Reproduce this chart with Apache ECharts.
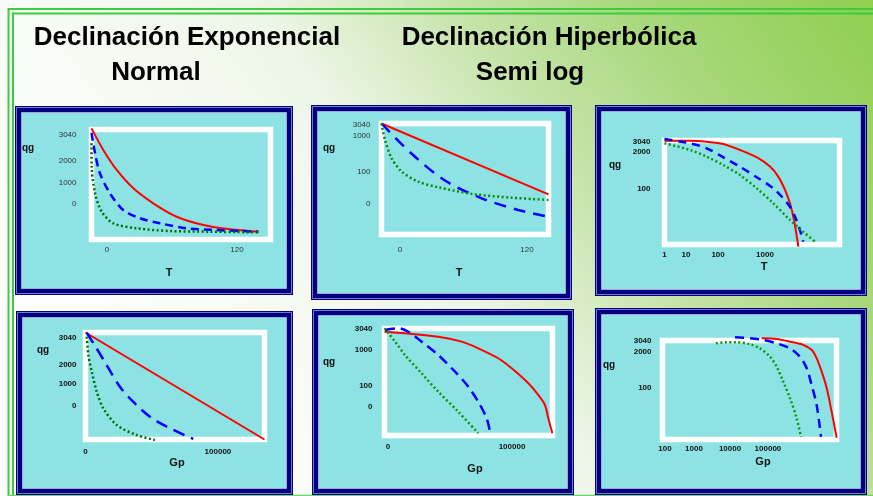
<!DOCTYPE html>
<html>
<head>
<meta charset="utf-8">
<script src="https://cdn.jsdelivr.net/npm/echarts@6/dist/echarts.min.js"></script>
<style>
  html, body { margin: 0; padding: 0; background: #fff; }
  #chart { width: 873px; height: 496px; }
</style>
</head>
<body>
<div id="chart"></div>
<script>
// Curves are given in plot units: x runs 0..100 across each frame, y runs 0..100 from bottom to top.

// Row 1: gas rate qg against time T
const qtLinRed   = [[0,101],[6.6,81.4],[14.1,63.2],[23.4,46.5],[34.5,32.9],[47.6,20.7],[62.5,13.2],[77.4,9.3],[93.2,7.1]];
const qtLinBlue  = [[0,97],[2,78.4],[4.7,60.2],[10.3,42],[17.7,26.8],[27.1,19.3],[38.3,14.7],[53.2,10.2],[69.9,8.6],[93.2,7.1]];
const qtLinGreen = [[0,87.5],[0.1,66.2],[2,42],[5.7,25.3],[12.2,14.7],[25.3,10.2],[43.9,7.7],[66.2,7.1],[93.2,6.5]];

const qtSemiRed   = [[0,100],[100,36.2]];
const qtSemiBlue  = [[0,100],[18.1,72.7],[38,48.6],[60,32.6],[81.9,22.1],[100,16]];
const qtSemiGreen = [[0,100],[2.1,85.1],[6.1,68.6],[12.1,56.6],[22,47.6],[34,42.5],[56,36.2],[78,33.2],[100,31.1]];

const qtLogRed   = [[0,99.8],[14.6,99.8],[24.1,98.8],[33.6,96.6],[43.1,90.9],[52.6,83.9],[60.3,74.9],[65,65.3],[68.9,52.4],[71.7,39.6],[74,23.6],[76.5,-2.1]];
const qtLogBlue  = [[0,101.4],[14.6,97.3],[24.1,92.5],[33.6,83.8],[43.1,74.8],[52.7,64.6],[62.2,54],[67.9,44.4],[71.7,36.3],[74.6,26.7],[77.4,13.9],[79.3,2.7]];
const qtLogGreen = [[0,97.3],[14.6,90.9],[24.1,84.4],[33.6,76.4],[43.1,66.8],[52.7,54],[62.2,39.6],[71.7,23.6],[79.3,12.3],[86,2.7]];

// Row 2: gas rate qg against cumulative production Gp
const qgpLinRed   = [[0,100],[100,0]];
const qgpLinBlue  = [[0.7,99.8],[6.2,85.2],[11.8,69.6],[19.2,49.3],[26.6,35.3],[36,21.3],[45.4,12],[60.2,0.5]];
const qgpLinGreen = [[0.7,96.1],[1.6,79],[3.5,63.4],[6.3,44.7],[9.9,29.2],[17.4,13.6],[28.6,4.2],[38.8,-0.5]];

const qgpSemiRed   = [[0,97],[12.2,95.5],[32,92.3],[45.9,87.7],[55.8,81.5],[67.7,72.2],[75.7,62.8],[85.6,48.8],[91.5,37.9],[95.5,28.5],[97.5,16.1],[99.9,2.1]];
const qgpSemiBlue  = [[0.3,98.6],[8.2,100.2],[14.2,97],[22.1,87.7],[32,75.2],[42,59.6],[49.9,45.6],[55.8,31.6],[60.8,16.1],[62.8,3.6]];
const qgpSemiGreen = [[0,100.2],[6.3,87.7],[12.2,75.2],[22.1,58.1],[32,40.9],[43.9,22.2],[55.8,2.1]];

const qgpLogRed   = [[57,102.2],[65.6,101.5],[73.3,98.8],[81,95.5],[85.8,90.4],[88.6,82],[91.5,68.5],[94.4,51.7],[97.2,28.1],[100.1,1.8]];
const qgpLogBlue  = [[41.7,103.2],[50.3,102.2],[57.9,100.5],[65.6,97.2],[73.3,92.1],[79,83.6],[82.9,71.9],[85.7,55.1],[88.6,34.8],[91.1,2.8]];
const qgpLogGreen = [[30.7,97.2],[36.9,98.2],[42.6,98.2],[50.3,96.2],[56,92.1],[61.8,83.6],[65.6,73.5],[69.4,58.4],[73.3,41.6],[77.1,21.4],[79.6,2.8]];

// Tick label texts and where they sit along each axis (plot units)
const qtLinYText  = ['3040','2000','1000','0'];  const qtLinYAt  = [95,71.4,51.4,32.3];
const qtLinXText  = ['0','120'];                 const qtLinXAt  = [8.7,81.3];
const qtSemiYText = ['3040','1000','100','0'];   const qtSemiYAt = [98.6,88.7,56.3,27.5];
const qtSemiXText = ['0','120'];                 const qtSemiXAt = [11.1,87.1];
const qtLogYText  = ['3040','2000','100'];       const qtLogYAt  = [98.6,88.9,53.4];
const qtLogXText  = ['1','10','100','1000'];     const qtLogXAt  = [0,12.3,30.6,57.4];
const qgpLinYText = ['3040','2000','1000','0'];  const qgpLinYAt = [94.9,69.6,51.9,31.3];
const qgpLinXText = ['0','100000'];              const qgpLinXAt = [0,74];
const qgpSemiYText = ['3040','1000','100','0'];  const qgpSemiYAt = [100,79.9,46.3,26.6];
const qgpSemiXText = ['0','100000'];             const qgpSemiXAt = [2.1,75.9];
const qgpLogYText = ['3040','2000','100'];       const qgpLogYAt = [99.5,88.4,52];
const qgpLogXText = ['100','1000','10000','100000']; const qgpLogXAt = [1.4,18.1,38.8,60.6];

const titleLines = ['Declinación Exponencial', 'Normal', 'Declinación Hiperbólica', 'Semi log'];
const yAxisName = 'qg';
const xAxisNames = ['T', 'T', 'T', 'Gp', 'Gp', 'Gp'];

// ---- layout of the six panels
const panels = [
  { curves: [qtLinRed, qtLinBlue, qtLinGreen], yText: qtLinYText, yAt: qtLinYAt, xText: qtLinXText, xAt: qtLinXAt,
    box: [15,106,293,295], grid: [91.5,129.5,179,110], yMargin: 15, xMargin: 6, bold: false, yName: [28,148], xName: [169,273], dash: [8,5], green: '#006e00' },
  { curves: [qtSemiRed, qtSemiBlue, qtSemiGreen], yText: qtSemiYText, yAt: qtSemiYAt, xText: qtSemiXText, xAt: qtSemiXAt,
    box: [311,105,572,300], grid: [381.5,123.5,167,111], yMargin: 11, xMargin: 11, bold: false, yName: [329,148], xName: [459,273], dash: [12,8], green: '#0a8a0a' },
  { curves: [qtLogRed, qtLogBlue, qtLogGreen], yText: qtLogYText, yAt: qtLogYAt, xText: qtLogXText, xAt: qtLogXAt,
    box: [595,105,867,296], grid: [664.5,140.5,175,104], yMargin: 14, xMargin: 6, bold: true, yName: [615,165], xName: [764,267], dash: [8,6], green: '#0e960e' },
  { curves: [qgpLinRed, qgpLinBlue, qgpLinGreen], yText: qgpLinYText, yAt: qgpLinYAt, xText: qgpLinXText, xAt: qgpLinXAt,
    box: [16,311,293,495], grid: [85.5,332.5,179,107], yMargin: 9, xMargin: 8, bold: true, yName: [43,350], xName: [177,463], dash: [12,7], green: '#006e00' },
  { curves: [qgpSemiRed, qgpSemiBlue, qgpSemiGreen], yText: qgpSemiYText, yAt: qgpSemiYAt, xText: qgpSemiXText, xAt: qgpSemiXAt,
    box: [312,309,574,495], grid: [384.5,328.5,168,107], yMargin: 12, xMargin: 7, bold: true, yName: [329,362], xName: [475,469], dash: [10,6], green: '#0e960e' },
  { curves: [qgpLogRed, qgpLogBlue, qgpLogGreen], yText: qgpLogYText, yAt: qgpLogYAt, xText: qgpLogXText, xAt: qgpLogXAt,
    box: [595,308,867,495], grid: [662.5,340.5,174,99], yMargin: 11, xMargin: 5, bold: true, yName: [609,365], xName: [763,462], dash: [9,6], green: '#0e960e' }
];

const FONT = 'Liberation Sans, Arial, sans-serif';
const lookup = (at, text) => v => {
  const i = at.findIndex(a => Math.abs(a - v) < 1e-6);
  return i >= 0 ? text[i] : '';
};

const grids = [], xAxes = [], yAxes = [], series = [], elements = [];

// slide frame lines
const frameGreen = '#3ccc3c';
elements.push(
  { type: 'line', shape: { x1: 8, y1: 9, x2: 873, y2: 9 }, style: { stroke: frameGreen, lineWidth: 2 }, z: 1 },
  { type: 'line', shape: { x1: 12.5, y1: 13.5, x2: 873, y2: 13.5 }, style: { stroke: frameGreen, lineWidth: 2 }, z: 1 },
  { type: 'line', shape: { x1: 8.5, y1: 8, x2: 8.5, y2: 496 }, style: { stroke: frameGreen, lineWidth: 2 }, z: 1 },
  { type: 'line', shape: { x1: 13, y1: 12.5, x2: 13, y2: 496 }, style: { stroke: frameGreen, lineWidth: 2 }, z: 1 },
  { type: 'line', shape: { x1: 8, y1: 495.5, x2: 873, y2: 495.5 }, style: { stroke: '#66d866', lineWidth: 1.5 }, z: 1 }
);

// headings
const titlePos = [[187,38],[156,73],[549,38],[530,73]];
titleLines.forEach((t, i) => {
  elements.push({
    type: 'text', x: titlePos[i][0], y: titlePos[i][1], z: 20,
    style: {
      text: t, fill: '#000', font: 'bold 26px ' + FONT, align: 'center', verticalAlign: 'middle',
      shadowColor: 'rgba(0,0,0,0.35)', shadowOffsetX: 1.5, shadowOffsetY: 1.5, shadowBlur: 1
    }
  });
});

panels.forEach((p, i) => {
  const [x0, y0, x1, y1] = p.box;
  const w = x1 - x0, h = y1 - y0;
  elements.push(
    { type: 'rect', shape: { x: x0, y: y0, width: w, height: h }, style: { fill: '#000080' }, z: 2 },
    { type: 'rect', shape: { x: x0 + 1.5, y: y0 + 1.5, width: w - 3, height: h - 3 }, style: { fill: null, stroke: '#7a7ac6', lineWidth: 1 }, z: 2 },
    { type: 'rect', shape: { x: x0 + 6.5, y: y0 + 6.5, width: w - 13, height: h - 13 }, style: { fill: '#8de3e3', stroke: '#a4a4d8', lineWidth: 1 }, z: 2 },
    { type: 'text', x: p.yName[0], y: p.yName[1], z: 20,
      style: { text: yAxisName, fill: '#111', font: 'bold 10px ' + FONT, align: 'center', verticalAlign: 'middle' } },
    { type: 'text', x: p.xName[0], y: p.xName[1], z: 20,
      style: { text: xAxisNames[i], fill: '#111', font: 'bold 11px ' + FONT, align: 'center', verticalAlign: 'middle' } }
  );

  grids.push({
    left: p.grid[0], top: p.grid[1], width: p.grid[2], height: p.grid[3],
    show: true, backgroundColor: 'transparent', borderColor: '#ffffff', borderWidth: 5.5,
    containLabel: false, outerBoundsMode: 'none', z: 5
  });
  const labelStyle = {
    fontFamily: FONT, fontSize: 8, color: p.bold ? '#111' : '#333', fontWeight: p.bold ? 'bold' : 'normal'
  };
  xAxes.push({
    type: 'value', gridIndex: i, min: 0, max: 100, z: 6,
    axisLine: { show: false }, axisTick: { show: false }, splitLine: { show: false },
    axisLabel: Object.assign({ customValues: p.xAt, margin: p.xMargin, formatter: lookup(p.xAt, p.xText) }, labelStyle)
  });
  yAxes.push({
    type: 'value', gridIndex: i, min: 0, max: 100, z: 6,
    axisLine: { show: false }, axisTick: { show: false }, splitLine: { show: false },
    axisLabel: Object.assign({ customValues: p.yAt, margin: p.yMargin, formatter: lookup(p.yAt, p.yText) }, labelStyle)
  });

  const styles = [
    { color: '#ff0000', width: 2, type: 'solid' },
    { color: '#0000ff', width: 2.5, type: p.dash },
    { color: p.green, width: 2.5, type: [2, 2.5] }
  ];
  p.curves.forEach((data, k) => {
    series.push({
      type: 'line', xAxisIndex: i, yAxisIndex: i, data: data,
      showSymbol: false, smooth: 0.3, clip: false, silent: true, z: 7,
      lineStyle: styles[k]
    });
  });
});

const chart = echarts.init(document.getElementById('chart'), null, { renderer: 'canvas' });
chart.setOption({
  animation: false,
  backgroundColor: new echarts.graphic.LinearGradient(200, 496, 873, 0, [
    { offset: 0, color: '#ffffff' },
    { offset: 0.4, color: '#eef6e8' },
    { offset: 0.6, color: '#c5e3a8' },
    { offset: 0.78, color: '#a6d779' },
    { offset: 1, color: '#8fcf4f' }
  ], true),
  grid: grids,
  xAxis: xAxes,
  yAxis: yAxes,
  series: series,
  graphic: { elements: elements }
});
</script>
</body>
</html>
